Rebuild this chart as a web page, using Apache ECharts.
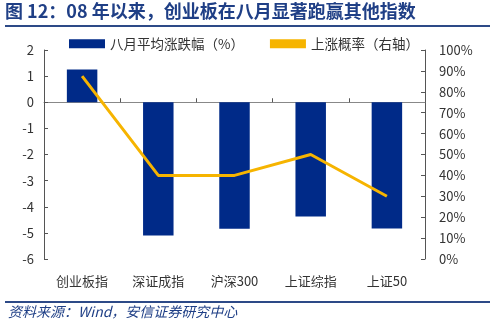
<!DOCTYPE html>
<html><head><meta charset="utf-8">
<script src="https://cdn.jsdelivr.net/npm/echarts@6/dist/echarts.min.js"></script>
<style>html,body{margin:0;padding:0;background:#fff}#c{width:500px;height:324px}</style>
</head><body><div id="c"></div>
<script>
const categories = ['创业板指','深证成指','沪深300','上证综指','上证50'];
const avgChange = [1.25, -5.1, -4.84, -4.37, -4.83];
const upProb = [87.5, 40, 40, 50, 30];
const leftTicks = [-6,-5,-4,-3,-2,-1,0,1,2];
const rightTicks = [0,10,20,30,40,50,60,70,80,90,100];
const titleText = '图 12：08 年以来，创业板在八月显著跑赢其他指数';
const sourceText = '资料来源：Wind，安信证券研究中心';
const seriesNames = ['八月平均涨跌幅（%）','上涨概率（右轴）'];

const font = '"Noto Sans CJK SC", "Liberation Sans", sans-serif';
const chart = echarts.init(document.getElementById('c'), null, {renderer:'canvas'});
chart.setOption({
  animation:false,
  textStyle:{fontFamily:font},
  graphic:[
    {type:'text', left:5, top:2, style:{text:titleText, fill:'#1f3f86', font:'bold 18px '+font}},
    {type:'line', shape:{x1:5,y1:26,x2:490,y2:26}, style:{stroke:'#2d4a87', lineWidth:2}},
    {type:'line', shape:{x1:5,y1:302,x2:490,y2:302}, style:{stroke:'#2d4a87', lineWidth:2}},
    {type:'text', left:8, top:305, style:{text:sourceText, fill:'#1f3f86', font:'italic 14px '+font}}
  ],
  legend:{
    top:32, left:64, itemGap:26, itemWidth:36, itemHeight:9,
    textStyle:{fontSize:13.5, color:'#333', fontFamily:font},
    data:[{name:seriesNames[0], icon:'rect'},{name:seriesNames[1], icon:'rect', itemStyle:{color:'#f6b400'}}]
  },
  grid:{left:44, right:75, top:50, bottom:65},
  xAxis:[
    {type:'category', data:categories, position:'bottom', axisLine:{show:false, onZero:false}, axisTick:{show:false},
     axisLabel:{color:'#333', fontSize:13, margin:16}},
    {type:'category', data:categories, position:'bottom', axisLine:{show:true, onZero:true, lineStyle:{color:'#888'}},
     axisTick:{show:true, inside:true, length:4, lineStyle:{color:'#555'}}, axisLabel:{show:false}}
  ],
  yAxis:[
    {type:'value', min:-6, max:2, interval:1, position:'left',
     axisLine:{show:true, lineStyle:{color:'#555'}}, axisTick:{show:true, inside:true, length:4, lineStyle:{color:'#555'}},
     splitLine:{show:false}, axisLabel:{color:'#333', fontSize:13, margin:10}},
    {type:'value', min:0, max:100, interval:10, position:'right',
     axisLine:{show:true, lineStyle:{color:'#555'}}, axisTick:{show:true, inside:true, length:4, lineStyle:{color:'#555'}},
     splitLine:{show:false}, axisLabel:{color:'#333', fontSize:13, margin:14, formatter:'{value}%'}}
  ],
  series:[
    {name:seriesNames[0], type:'bar', data:avgChange, xAxisIndex:0, yAxisIndex:0, barWidth:'40%',
     itemStyle:{color:'#002a88'}},
    {name:seriesNames[1], type:'line', data:upProb, xAxisIndex:0, yAxisIndex:1, symbol:'none',
     lineStyle:{color:'#f6b400', width:3}, itemStyle:{color:'#f6b400'}}
  ]
});
</script></body></html>
